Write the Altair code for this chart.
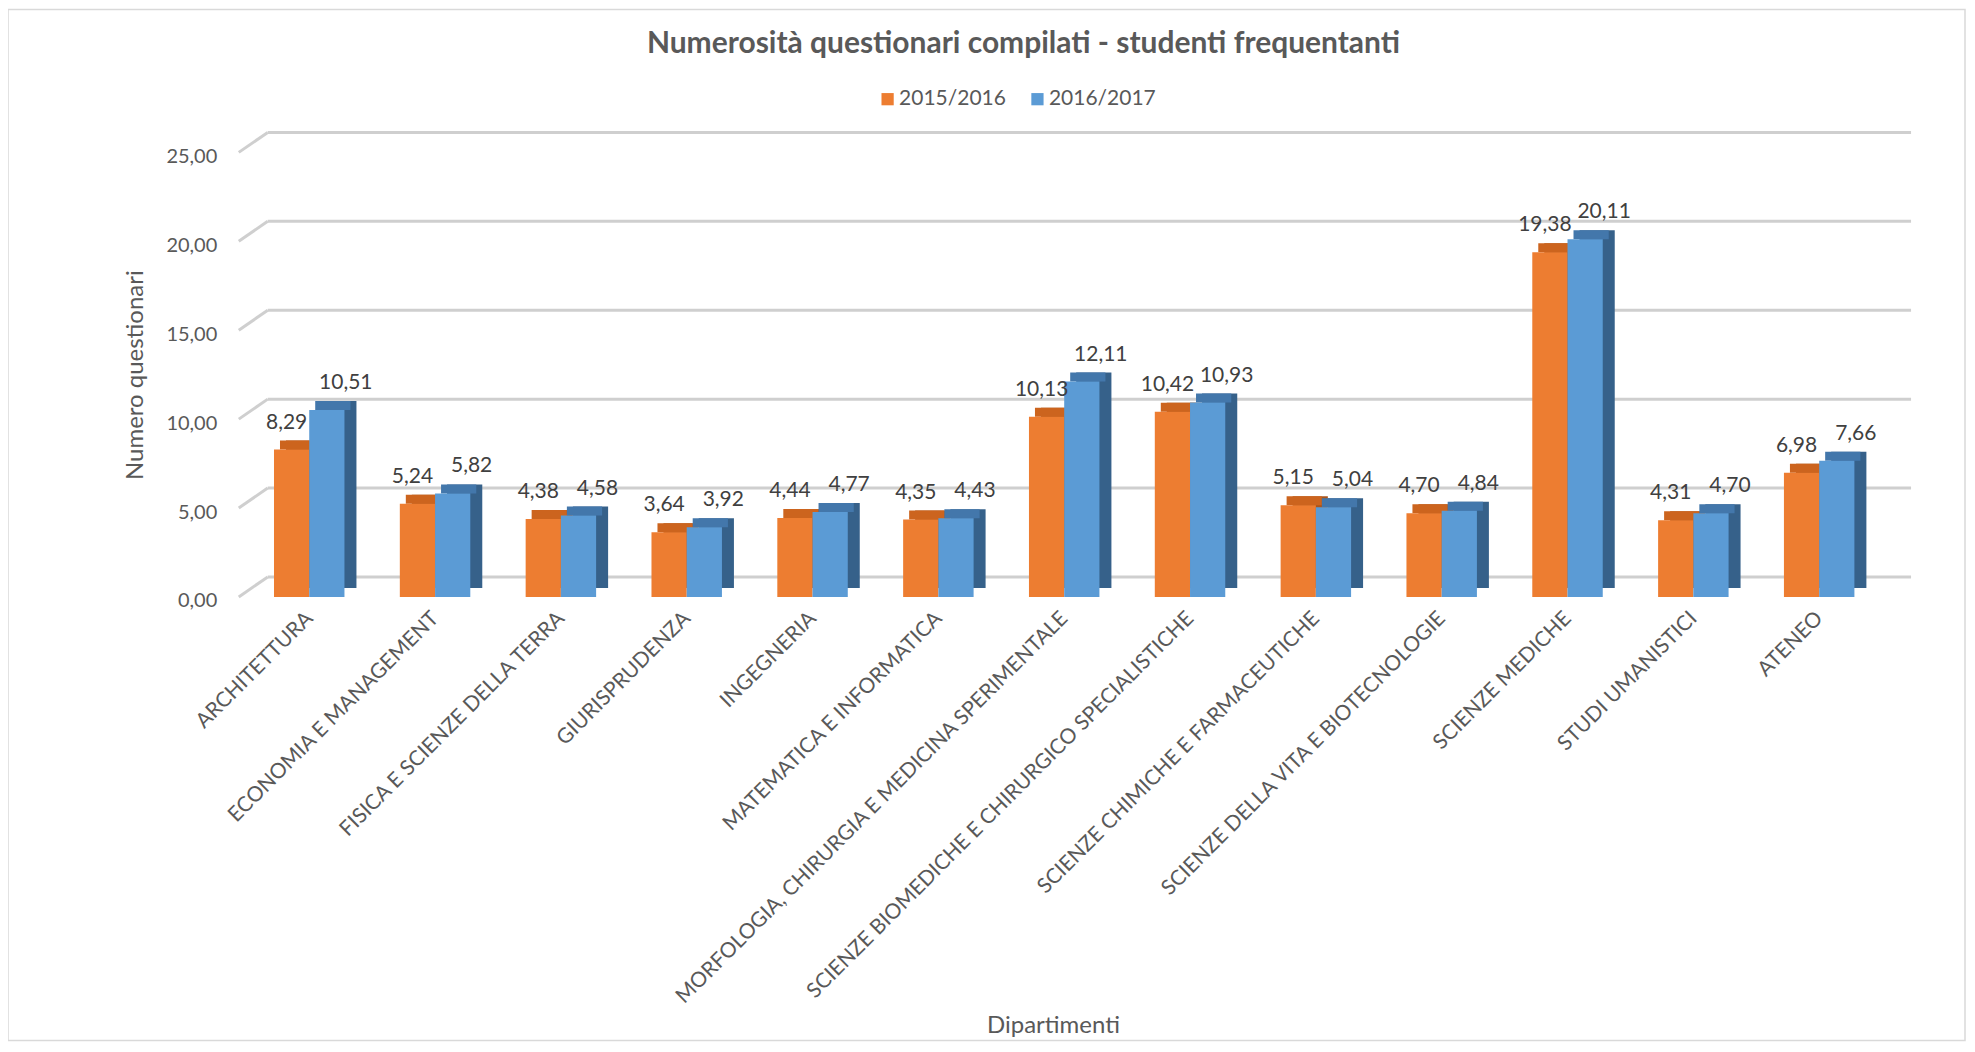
import json
import altair as alt
import pandas as pd

categories = [
    "ARCHITETTURA",
    "ECONOMIA E MANAGEMENT",
    "FISICA E SCIENZE DELLA TERRA",
    "GIURISPRUDENZA",
    "INGEGNERIA",
    "MATEMATICA E INFORMATICA",
    "MORFOLOGIA, CHIRURGIA E MEDICINA SPERIMENTALE",
    "SCIENZE BIOMEDICHE E CHIRURGICO SPECIALISTICHE",
    "SCIENZE CHIMICHE E FARMACEUTICHE",
    "SCIENZE DELLA VITA E BIOTECNOLOGIE",
    "SCIENZE MEDICHE",
    "STUDI UMANISTICI",
    "ATENEO",
]
values_2015_2016 = [8.29, 5.24, 4.38, 3.64, 4.44, 4.35, 10.13, 10.42, 5.15, 4.70, 19.38, 4.31, 6.98]
values_2016_2017 = [10.51, 5.82, 4.58, 3.92, 4.77, 4.43, 12.11, 10.93, 5.04, 4.84, 20.11, 4.70, 7.66]
series = ["2015/2016", "2016/2017"]
y_ticks = [0, 5, 10, 15, 20, 25]

rows = []
for i, (c, a, b) in enumerate(zip(categories, values_2015_2016, values_2016_2017)):
    rows.append({"idx": i, "cat": c, "series": series[0], "value": a})
    rows.append({"idx": i, "cat": c, "series": series[1], "value": b})
df = pd.DataFrame(rows)
df["label"] = df["value"].map(lambda v: f"{v:.2f}".replace(".", ","))
grid_df = pd.DataFrame({"v": y_ticks})
frame_df = pd.DataFrame({"k": [0]})

W, H = 1645, 445
FONT = "Lato"
BACK_DX, BACK_DY = 29, 20
BAR_DX, BAR_DY = 12, 9
HALF = 0.28  # half of the bar pair width, in category steps

front_colors = ["#ED7D31", "#5B9BD5"]
top_colors = ["#CC641E", "#4377AB"]
side_colors = ["#A9551C", "#36618A"]

y_scale = alt.Scale(domain=[0, 25], nice=False, zero=True)
x_scale = alt.Scale(domain=[-0.56, 12.5], nice=False, zero=False)

x_axis = alt.Axis(
    values=list(range(len(categories))),
    labelExpr=json.dumps(categories) + "[round(datum.value)]",
    labelAngle=-45, labelAlign="right", labelBaseline="middle",
    labelFontSize=21, labelColor="#595959", labelFont=FONT, labelPadding=18,
    labelLimit=0, labelOverlap=False, labelFlush=False, labelBound=False,
    ticks=False, tickSize=0, domain=False, grid=False,
    titleFont=FONT, titleFontSize=24, titleFontWeight="normal",
    titleColor="#595959", titleX=815, titleY=429, titleBaseline="middle",
    titleAlign="center",
)
y_axis = alt.Axis(
    values=y_ticks,
    labelExpr="replace(format(datum.value, '.2f'), '.', ',')",
    labelFontSize=20, labelColor="#595959", labelFont=FONT, labelPadding=22,
    labelOffset=4,
    ticks=False, tickSize=0, domain=False, grid=False,
    titleFont=FONT, titleFontSize=24, titleFontWeight="normal",
    titleColor="#595959", titlePadding=18,
)

def X(field):
    return alt.X(field, type="quantitative", scale=x_scale, axis=x_axis, title="Dipartimenti")

def Y(field):
    return alt.Y(field, type="quantitative", scale=y_scale, axis=y_axis, title="Numero questionari")

base = alt.Chart(df).transform_calculate(
    x0=f"datum.idx + (datum.series == '{series[0]}' ? -{HALF} : 0)",
    x1=f"datum.idx + (datum.series == '{series[0]}' ? 0 : {HALF})",
    xm=f"datum.idx + (datum.series == '{series[0]}' ? -{HALF / 2} : {HALF / 2})",
)

frame = alt.Chart(frame_df).mark_rect(
    fillOpacity=0, stroke="#D9D9D9", strokeWidth=1.5
).encode(
    x=alt.value(-231), x2=alt.value(W + 83),
    y=alt.value(-143), y2=alt.value(H + 444),
)

grid_back = alt.Chart(grid_df).mark_rule(
    yOffset=-BACK_DY, y2Offset=-BACK_DY, stroke="#CFCFCF", strokeWidth=3
).encode(
    y=Y("v"),
    x=alt.value(BACK_DX), x2=alt.value(W + BACK_DX),
)
grid_diag = alt.Chart(grid_df).mark_rule(
    y2Offset=-BACK_DY, stroke="#CFCFCF", strokeWidth=3
).encode(
    y=Y("v"), y2=alt.Y2("v"),
    x=alt.value(0), x2=alt.value(BACK_DX),
)

side = base.mark_rect(
    xOffset=BAR_DX, x2Offset=BAR_DX, yOffset=-BAR_DY, y2Offset=-BAR_DY
).encode(
    x=X("x0"), x2=alt.X2("x1"),
    y=Y("value"), y2=alt.datum(0),
    color=alt.Color("series:N", scale=alt.Scale(domain=series, range=side_colors), legend=None),
)
top = base.mark_rect(
    xOffset=BAR_DX // 2, x2Offset=BAR_DX // 2, yOffset=-BAR_DY
).encode(
    x=X("x0"), x2=alt.X2("x1"),
    y=Y("value"), y2=alt.Y2("value"),
    color=alt.Color("series:N", scale=alt.Scale(domain=series, range=top_colors), legend=None),
)
front = base.mark_rect().encode(
    x=X("x0"), x2=alt.X2("x1"),
    y=Y("value"), y2=alt.datum(0),
    color=alt.Color(
        "series:N",
        scale=alt.Scale(domain=series, range=front_colors),
        legend=alt.Legend(
            orient="none", legendX=639, legendY=-64, direction="horizontal",
            title=None, symbolType="square", symbolSize=150, symbolStrokeWidth=0,
            labelFontSize=21, labelFont=FONT, labelColor="#595959",
            columnPadding=21, labelOffset=1,
        ),
    ),
)

def labels(s, dx):
    return base.transform_filter(alt.datum.series == s).mark_text(
        dy=-27, xOffset=dx, fontSize=21, font=FONT, color="#404040"
    ).encode(
        x=X("xm"), y=Y("value"),
        text="label:N",
    )

chart = alt.layer(
    frame, grid_back, grid_diag, side, top, front,
    labels(series[0], -5), labels(series[1], 19),
).resolve_scale(color="independent").properties(
    width=W, height=H,
    autosize=alt.AutoSizeParams(type="none"),
    padding={"left": 231, "top": 144, "right": 85, "bottom": 447},
    view=alt.ViewBackground(stroke="transparent", strokeWidth=0),
    title=alt.TitleParams(
        "Numerosità questionari compilati - studenti frequentanti",
        font=FONT, fontSize=30, fontWeight="bold", color="#595959",
        anchor="middle", dx=-37, offset=-50,
    ),
).configure_view(stroke="transparent", strokeWidth=0).configure(background="white")

chart.save("out.html", embed_options={"renderer": "svg", "actions": False})
